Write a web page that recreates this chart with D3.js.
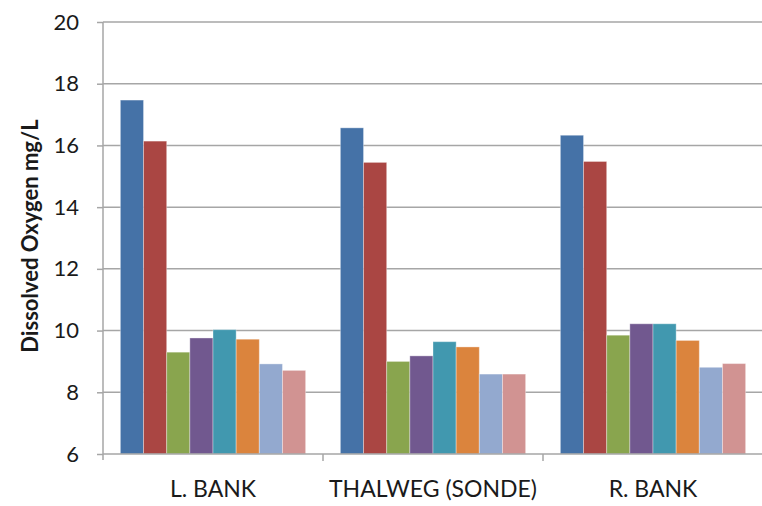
<!DOCTYPE html>
<html>
<head>
<meta charset="utf-8">
<script src="https://d3js.org/d3.v7.min.js"></script>
<style>
  body { margin: 0; background: #fff; }
  text { font-family: Lato, "Open Sans", sans-serif; fill: #1a1a1a; }
</style>
</head>
<body>
<div id="chart"></div>
<script>
  // sites along the x axis
  var sites = ["L. BANK", "THALWEG (SONDE)", "R. BANK"];
  // one array per sampling series (8 bars per site)
  var s1 = [17.47, 16.57, 16.33];
  var s2 = [16.14, 15.45, 15.48];
  var s3 = [9.30, 9.00, 9.85];
  var s4 = [9.76, 9.18, 10.22];
  var s5 = [10.03, 9.64, 10.22];
  var s6 = [9.72, 9.47, 9.68];
  var s7 = [8.92, 8.59, 8.81];
  var s8 = [8.71, 8.59, 8.93];
  var seriesColors = ["#4572A7", "#AA4643", "#89A54E", "#71588F", "#4198AF", "#DB843D", "#93A9CF", "#D19392"];
  var yTicks = [6, 8, 10, 12, 14, 16, 18, 20];

  var series = [s1, s2, s3, s4, s5, s6, s7, s8];

  var width = 762, height = 506;
  var margin = {top: 22, right: -1, bottom: 52, left: 103};

  var svg = d3.select("#chart").append("svg")
      .attr("width", width)
      .attr("height", height);

  var x0 = d3.scaleBand()
      .domain(sites)
      .range([margin.left, width - margin.right])
      .paddingInner(0)
      .paddingOuter(0);

  // Excel style gap width 150% -> padding of 0.75 bar each side
  var x1 = d3.scaleBand()
      .domain(d3.range(series.length))
      .range([0, x0.bandwidth()])
      .paddingOuter(0.75)
      .paddingInner(0);

  var y = d3.scaleLinear()
      .domain([6, 20])
      .range([height - margin.bottom, margin.top]);

  // gridlines
  svg.append("g")
    .selectAll("line")
    .data(yTicks.slice(1))
    .enter().append("line")
      .attr("x1", margin.left)
      .attr("x2", width)
      .attr("y1", function (d) { return y(d); })
      .attr("y2", function (d) { return y(d); })
      .style("stroke", "#a6a6a6")
      .style("stroke-width", 1.5);

  // bars
  var groups = svg.append("g")
    .selectAll("g")
    .data(sites)
    .enter().append("g")
      .attr("transform", function (d) { return "translate(" + x0(d) + ",0)"; });

  groups.selectAll("rect")
    .data(function (d, i) { return series.map(function (s, k) { return {k: k, v: s[i]}; }); })
    .enter().append("rect")
      .attr("x", function (d) { return x1(d.k); })
      .attr("width", x1.bandwidth())
      .attr("y", function (d) { return y(d.v); })
      .attr("height", function (d) { return y(6) - y(d.v); })
      .style("fill", function (d) { return seriesColors[d.k]; })
      .style("stroke", "#ffffff")
      .style("stroke-opacity", 0.35)
      .style("stroke-width", 1);

  // y axis
  var yAxis = d3.axisLeft(y).tickValues(yTicks).tickSize(6).tickPadding(18);
  var ya = svg.append("g")
      .attr("transform", "translate(" + margin.left + ",0)")
      .call(yAxis);
  ya.select(".domain").attr("d", "M0," + y(20) + "V" + (y(6) + 6)).style("stroke", "#a6a6a6").style("stroke-width", 1.5);
  ya.selectAll(".tick line").style("stroke", "#a6a6a6").style("stroke-width", 1.5);
  ya.selectAll(".tick text").style("font-size", "22px").style("font-family", "Lato, sans-serif").attr("fill", "#1a1a1a");

  // x axis
  var xa = svg.append("g")
      .attr("transform", "translate(0," + y(6) + ")");
  xa.append("line")
      .attr("x1", margin.left).attr("x2", width)
      .style("stroke", "#a6a6a6").style("stroke-width", 1.5);
  xa.selectAll(".sep")
    .data(sites)
    .enter().append("line")
      .attr("class", "sep")
      .attr("x1", function (d) { return x0(d) + x0.bandwidth(); })
      .attr("x2", function (d) { return x0(d) + x0.bandwidth(); })
      .attr("y1", 0).attr("y2", 7)
      .style("stroke", "#a6a6a6").style("stroke-width", 1.5);
  xa.selectAll(".lab")
    .data(sites)
    .enter().append("text")
      .attr("class", "lab")
      .attr("x", function (d) { return x0(d) + x0.bandwidth() / 2; })
      .attr("y", 43)
      .attr("text-anchor", "middle")
      .style("font-size", "23px")
      .text(function (d) { return d; });

  // y title
  svg.append("text")
      .attr("transform", "translate(38,236) rotate(-90)")
      .attr("text-anchor", "middle")
      .style("font-size", "22px")
      .style("font-weight", "bold")
      .text("Dissolved Oxygen mg/L");
</script>
</body>
</html>
